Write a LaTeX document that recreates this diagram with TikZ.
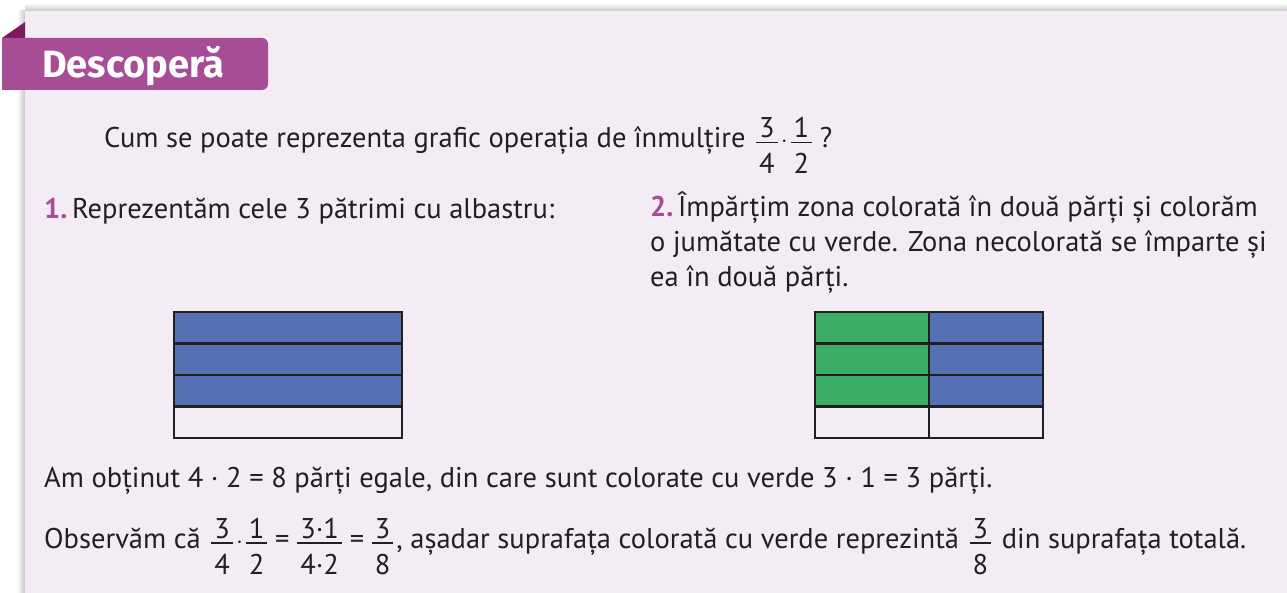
\documentclass[tikz,border=0pt]{standalone}
\usepackage{fontspec}
\setmainfont{PT Sans}
\newfontfamily\titlefont{Fira Sans}
\definecolor{panel}{HTML}{F3ECF5}
\definecolor{tabc}{HTML}{A64D96}
\definecolor{foldc}{HTML}{7A1A5F}
\definecolor{ink}{HTML}{231F20}
\definecolor{blu}{HTML}{5670B4}
\definecolor{grn}{HTML}{3DAE66}
\newbox\frnum \newbox\frden \newdimen\frw
\newcommand\fr[2]{%
  \setbox\frnum\hbox{#1}\setbox\frden\hbox{#2}%
  \frw=\wd\frnum \ifdim\wd\frden>\frw \frw=\wd\frden\fi
  \advance\frw by 6pt
  \hbox{\kern3pt\rlap{\raisebox{10pt}{\hbox to\frw{\hfil\copy\frnum\hfil}}}%
  \rlap{\raisebox{4.5pt}{\rule{\frw}{1.3pt}}}%
  \raisebox{-26pt}{\hbox to\frw{\hfil\copy\frden\hfil}}\kern3pt}}
\tikzset{
  txt/.style={inner sep=0pt, anchor=base west, text=ink, font=\fontsize{28.5pt}{35pt}\selectfont},
  cellline/.style={draw=ink, line width=2.5pt},
}
\begin{document}
\begin{tikzpicture}[x=1pt,y=-1pt]
\useasboundingbox (0,0) rectangle (1287,593);
\fill[white] (0,0) rectangle (1287,593);
% shadow
\shade[top color=white, bottom color=black!22] (25,3) rectangle (1287,11);
\shade[left color=white, right color=black!22] (17,11) rectangle (25,593);
% panel
\fill[panel] (25,11) rectangle (1287,593);
% fold and tab
\fill[foldc] (2,38) -- (25,22) -- (25,38) -- cycle;
\fill[tabc, rounded corners=6pt] (2,38) -- (268,38) -- (268,90) -- (2,90) [sharp corners] -- cycle;
\fill[tabc] (2,38) rectangle (20,90);
\node[inner sep=0pt, anchor=base west, text=white, font=\titlefont\bfseries\fontsize{38pt}{40pt}\selectfont] (title) at (42,78) {Descoperă};
% question
\node[txt] (q) at (104,148) {Cum se poate reprezenta grafic operația de înmulțire \fr{3}{4}$\cdot$\fr{1}{2}\,?};
% step 1
\node[txt] (s1) at (44,219) {{\color{tabc}\bfseries 1.}\,Reprezentăm cele 3 pătrimi cu albastru:};
% step 2
\node[txt, align=left] (s2) at (650,287) {{\color{tabc}\bfseries 2.}\,Împărțim zona colorată în două părți și colorăm\\o jumătate cu verde. Zona necolorată se împarte și\\ea în două părți.};
% grid 1
\fill[blu] (174,312) rectangle (402,406.5);
\draw[cellline] (174,312) rectangle (402,438);
\draw[cellline] (174,343.5) -- (402,343.5);
\draw[cellline] (174,375) -- (402,375);
\draw[cellline] (174,406.5) -- (402,406.5);
% grid 2
\fill[grn] (815,312) rectangle (929,406.5);
\fill[blu] (929,312) rectangle (1043,406.5);
\draw[cellline] (815,312) rectangle (1043,438);
\draw[cellline] (815,343.5) -- (1043,343.5);
\draw[cellline] (815,375) -- (1043,375);
\draw[cellline] (815,406.5) -- (1043,406.5);
\draw[cellline] (929,312) -- (929,438);
% results
\node[txt] (r1) at (44,487) {Am obținut 4 · 2 = 8 părți egale, din care sunt colorate cu verde 3 · 1 = 3 părți.};
\node[txt] (r2) at (44,548) {Observăm că \fr{3}{4}$\cdot$\fr{1}{2}\,=\,\fr{3·1}{4·2}\,=\,\fr{3}{8}, așadar suprafața colorată cu verde reprezintă \fr{3}{8} din suprafața totală.};
\end{tikzpicture}
\end{document}
